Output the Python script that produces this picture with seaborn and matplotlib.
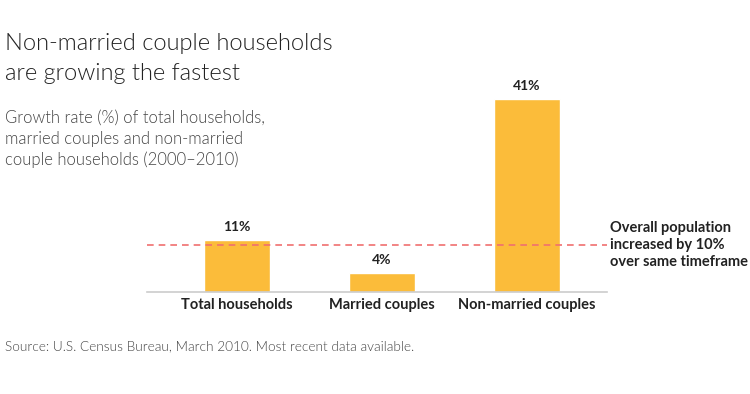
import pandas as pd
import seaborn as sns
import matplotlib.pyplot as plt

categories = ["Total households", "Married couples", "Non-married couples"]
growth = [11, 4, 41]
population_growth = 10

df = pd.DataFrame({"category": categories, "growth": growth})

sns.set_style("white")
plt.rcParams["font.family"] = ["Lato", "DejaVu Sans"]

fig = plt.figure(figsize=(7.5, 3.94), dpi=100)
ax = fig.add_axes([0.196, 0.259, 0.613, 0.538])

sns.barplot(data=df, x="category", y="growth", color="#FBBC3A", saturation=1,
            width=0.46, ax=ax)
ax.set_xlim(-0.62, 2.55)
ax.set_ylim(0, 45)

for i, v in enumerate(growth):
    ax.text(i, v + 1.5, f"{v}%", ha="center", va="bottom", fontsize=10,
            fontweight="bold", color="#222222")

ax.axhline(population_growth, color="#F07070", lw=1.2, ls=(0, (4, 3)), zorder=3)
ax.text(1.008, population_growth, "Overall population\nincreased by 10%\nover same timeframe",
        transform=ax.get_yaxis_transform(), ha="left", va="center",
        fontsize=10.5, fontweight="bold", color="#222222", linespacing=1.3)

sns.despine(ax=ax, left=True)
ax.spines["bottom"].set_color("#cccccc")
ax.spines["bottom"].set_linewidth(1.2)
ax.set_yticks([])
ax.set_xlabel("")
ax.set_ylabel("")
ax.tick_params(axis="x", length=0, pad=4)
for lbl in ax.get_xticklabels():
    lbl.set_fontsize(10.5)
    lbl.set_fontweight("bold")
    lbl.set_color("#222222")

fig.text(0.007, 0.852, "Non-married couple households\nare growing the fastest",
         ha="left", va="center", fontsize=17, fontweight=300,
         color="#222222", linespacing=1.5)
fig.text(0.007, 0.647, "Growth rate (%) of total households,\nmarried couples and non-married\ncouple households (2000\u20132010)",
         ha="left", va="center", fontsize=12, fontweight=300,
         color="#444444", linespacing=1.38)
fig.text(0.007, 0.12, "Source: U.S. Census Bureau, March 2010. Most recent data available.",
         ha="left", va="center", fontsize=9.8, fontweight=300, color="#444444")

fig.savefig("out.png", dpi=100)
